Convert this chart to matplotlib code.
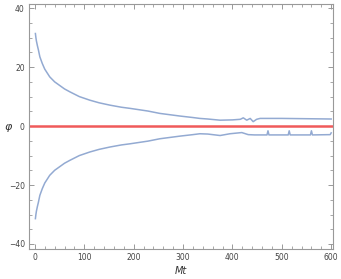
import matplotlib
matplotlib.use("Agg")
import matplotlib.pyplot as plt
from matplotlib.ticker import MultipleLocator

# upper branch
t_up = [1, 2, 3, 5, 7, 10, 15, 20, 30, 40, 50, 60, 71, 90, 111, 130, 152, 175, 193,
        229, 253, 294, 320, 334, 350, 375, 400, 416, 422, 429, 436, 442, 449, 456,
        500, 550, 600]
phi_up = [31.4, 30.0, 28.9, 27.3, 25.9, 23.5, 21.2, 19.3, 16.7, 15.0, 13.8, 12.6,
          11.6, 10.0, 8.8, 7.9, 7.1, 6.4, 6.0, 5.1, 4.3, 3.4, 2.9, 2.6, 2.4, 2.0,
          2.1, 2.3, 2.8, 2.0, 2.6, 1.5, 2.3, 2.6, 2.6, 2.5, 2.4]

# lower branch
t_lo = [1, 2, 3, 5, 7, 10, 15, 20, 30, 40, 50, 60, 71, 90, 111, 130, 152, 175, 193,
        229, 253, 294, 320, 334, 350, 375, 395, 419, 432, 445, 470, 472, 474, 513,
        515, 517, 558, 560, 562, 598, 600]
phi_lo = [-31.4, -30.0, -28.9, -27.3, -25.9, -23.5, -21.2, -19.3, -16.7, -15.0,
          -13.8, -12.6, -11.6, -10.0, -8.8, -7.9, -7.1, -6.4, -6.0, -5.1, -4.3, -3.4,
          -2.9, -2.6, -2.7, -3.2, -2.6, -2.2, -2.9, -3.0, -3.0, -1.6, -3.0, -3.0,
          -1.6, -3.0, -3.0, -1.6, -3.0, -2.9, -2.3]

zero_t = [-15, 610]
zero_phi = [0, 0]

fig = plt.figure(figsize=(3.41, 2.79), dpi=100)
ax = fig.add_axes([0.085, 0.1075, 0.892, 0.878])

line_col = "#93aad2"
ax.plot(t_up, phi_up, color=line_col, lw=1.1)
ax.plot(t_lo, phi_lo, color=line_col, lw=1.1)
ax.plot(zero_t, zero_phi, color="#f05a5a", lw=1.8)

ax.set_xlim(-12, 604)
ax.set_ylim(-41.7, 41.4)

ax.xaxis.set_major_locator(MultipleLocator(100))
ax.xaxis.set_minor_locator(MultipleLocator(20))
ax.yaxis.set_major_locator(MultipleLocator(20))
ax.yaxis.set_minor_locator(MultipleLocator(5))

grey = "#999999"
for s in ax.spines.values():
    s.set_color(grey)
    s.set_linewidth(0.8)
ax.tick_params(which="both", direction="in", top=True, right=True,
               color=grey, labelsize=5.5, labelcolor="#444444", pad=3)
ax.tick_params(which="major", length=3.5, width=0.7)
ax.tick_params(which="minor", length=2, width=0.6)

ax.set_xlabel("Mt", fontsize=7, style="italic", color="#333333", labelpad=3)
ax.set_ylabel("φ", fontsize=8, style="italic", color="#333333",
              rotation=0, va="center", ha="center")
ax.yaxis.set_label_coords(-0.067, 0.5)

fig.savefig("out.png", dpi=100)
